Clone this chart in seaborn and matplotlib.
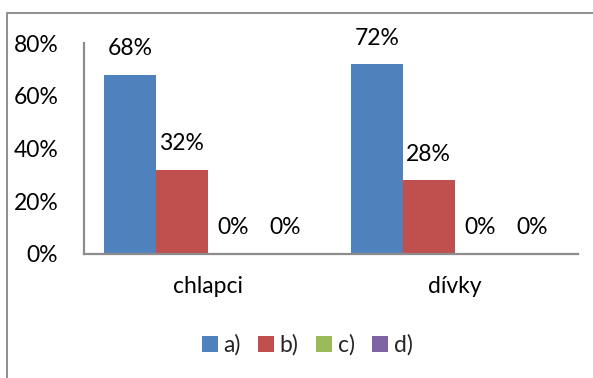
import matplotlib
matplotlib.use("Agg")
import matplotlib.pyplot as plt
import matplotlib.patches as mpatches
from matplotlib.ticker import PercentFormatter
import seaborn as sns
import pandas as pd

# Survey answers by group (share of respondents)
categories = ["chlapci", "dívky"]
answers = ["a)", "b)", "c)", "d)"]
share_a = [0.68, 0.72]
share_b = [0.32, 0.28]
share_c = [0.0, 0.0]
share_d = [0.0, 0.0]
yticks = [0.0, 0.2, 0.4, 0.6, 0.8]

palette = ["#4F81BD", "#C0504D", "#9BBB59", "#8064A2"]
axis_grey = "#8C8C8C"
fs = 16.5

rows = []
for ans, vals in zip(answers, [share_a, share_b, share_c, share_d]):
    for cat, v in zip(categories, vals):
        rows.append({"skupina": cat, "odpoved": ans, "podil": v})
df = pd.DataFrame(rows)

sns.set_theme(style="white")
plt.rcParams["font.family"] = ["Lato", "DejaVu Sans"]

fig = plt.figure(figsize=(5.93, 3.78), dpi=100)
ax = fig.add_axes([84 / 593, 124 / 378, 494 / 593, 211 / 378])

sns.barplot(data=df, x="skupina", y="podil", hue="odpoved", order=categories,
            hue_order=answers, palette=palette, width=0.837, saturation=1,
            edgecolor="none", linewidth=0, legend=True, ax=ax)

ax.set_xlim(-0.5, 1.5)
ax.set_ylim(0, 0.8)
ax.set_yticks(yticks)
ax.yaxis.set_major_formatter(PercentFormatter(1.0, decimals=0))
ax.set_xlabel("")
ax.set_ylabel("")
ax.tick_params(axis="y", length=0, pad=18.5, labelsize=fs, colors="black")
ax.tick_params(axis="x", length=0, pad=16, labelsize=fs, colors="black")

for side in ["top", "right"]:
    ax.spines[side].set_visible(False)
for side in ["left", "bottom"]:
    ax.spines[side].set_color(axis_grey)
    ax.spines[side].set_linewidth(1.6)

# value labels above every bar
for container in ax.containers:
    for bar in container:
        h = bar.get_height()
        ax.annotate(f"{h * 100:.0f}%", (bar.get_x() + bar.get_width() / 2, h),
                    xytext=(0, 26), textcoords="offset pixels",
                    ha="center", va="center", fontsize=fs, color="black")

handles, labels = ax.get_legend_handles_labels()
ax.get_legend().remove()
fig.legend(handles, labels, loc="center", bbox_to_anchor=(307 / 593, 33 / 378),
           ncol=4, frameon=False, fontsize=fs, handlelength=0.7,
           handleheight=0.7, handletextpad=0.25, columnspacing=0.75)

# outer chart frame
fig.patches.append(mpatches.Rectangle((7 / 593, -0.1), 2, 365 / 378 + 0.1,
                                      fill=False, edgecolor="#8F8F8F",
                                      linewidth=1.4, transform=fig.transFigure,
                                      figure=fig))

fig.savefig("out.png", dpi=100)
